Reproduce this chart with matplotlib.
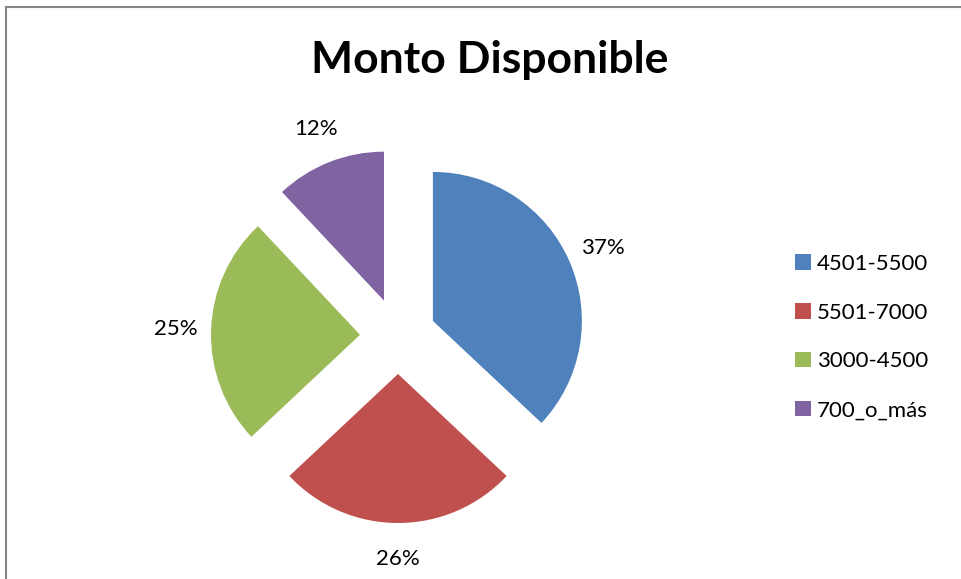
import matplotlib
matplotlib.use("Agg")
import matplotlib.pyplot as plt
from matplotlib.patches import Patch
from matplotlib.lines import Line2D

title = "Monto Disponible"
categories = ["4501-5500", "5501-7000", "3000-4500", "700_o_más"]
values = [37, 26, 25, 12]
colors = ["#4F81BD", "#C0504D", "#9BBB59", "#8064A2"]

W, H = 961, 579
fig = plt.figure(figsize=(W / 100, H / 100), dpi=100)
ax = fig.add_axes([0, 0, 1, 1])
ax.set_xlim(0, W)
ax.set_ylim(0, H)
ax.set_aspect("equal")
ax.axis("off")

radius = 149
explode = [38] * len(values)
wedges, texts, autotexts = ax.pie(
    values,
    colors=colors,
    explode=explode,
    center=(398, 243),
    radius=radius,
    startangle=90,
    counterclock=False,
    autopct="%.0f%%",
    pctdistance=1.24,
    textprops=dict(fontsize=16, family="Lato", color="black"),
    wedgeprops=dict(linewidth=0),
    frame=True,
)
ax.set_xlim(0, W)
ax.set_ylim(0, H)
ax.axis("off")

fig.text(490, H - 60, title, transform=None, ha="center", va="center",
         fontsize=32, fontweight="bold", family="Lato")

handles = [Patch(facecolor=c, edgecolor="none") for c in colors]
leg = fig.legend(handles, categories, loc="center left",
                 bbox_to_anchor=(775 / W, 1 - 337 / H),
                 frameon=False, handlelength=0.7, handleheight=0.7,
                 handletextpad=0.3, labelspacing=1.3,
                 prop=dict(family="Lato", size=16))

# chart area border (top and left edges visible)
fig.add_artist(Line2D([6 / W, 6 / W], [0, 1 - 7 / H], color="#868686",
                      linewidth=1.5, transform=fig.transFigure))
fig.add_artist(Line2D([6 / W, 1], [1 - 7 / H, 1 - 7 / H], color="#868686",
                      linewidth=1.5, transform=fig.transFigure))

fig.savefig("out.png", dpi=100, facecolor="white")
